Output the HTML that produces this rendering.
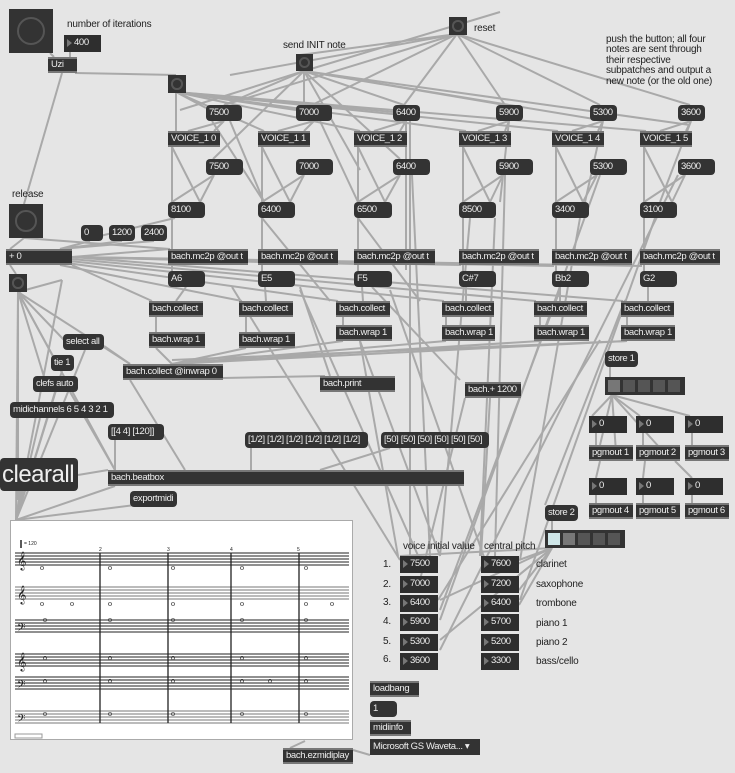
<!DOCTYPE html>
<html><head><meta charset="utf-8"><style>
body{margin:0;width:735px;height:773px;background:#e5e5e5;position:relative;overflow:hidden;font-family:"Liberation Sans",sans-serif;}
.o,.m,.n,.b{position:absolute;box-sizing:border-box;color:#eee;font-size:9.5px;letter-spacing:-0.35px;line-height:16px;padding-left:3px;white-space:nowrap;overflow:hidden;}
.o{background:#333;border-top:2px solid #777;border-bottom:2px solid #777;line-height:12px;}
.m{background:#333;border-radius:4px;}
.n{background:#2e2e2e;padding-left:10px;}
.n:before{content:"";position:absolute;left:3px;top:4px;border-left:5px solid #777;border-top:4px solid transparent;border-bottom:4px solid transparent;}
.b{background:#333;}
.b:after{content:"";position:absolute;left:18%;top:18%;width:64%;height:64%;box-sizing:border-box;border:2px solid #555;border-radius:50%;}
.t{position:absolute;font-size:10px;letter-spacing:-0.2px;color:#222;white-space:nowrap;line-height:11px;}
svg{position:absolute;left:0;top:0;}
</style></head><body>
<svg width="735" height="773" stroke="#a9a9a9" stroke-width="2" fill="none">
<g>
<line x1="50" y1="53" x2="54" y2="57"/><line x1="70" y1="51" x2="70" y2="57"/>
<line x1="75" y1="73" x2="176" y2="75"/><line x1="62" y1="73" x2="24" y2="204"/>
<line x1="176" y1="92" x2="176" y2="131"/>
<line x1="176" y1="92" x2="264" y2="131"/><line x1="176" y1="92" x2="360" y2="131"/><line x1="176" y1="92" x2="466" y2="131"/><line x1="176" y1="92" x2="558" y2="131"/><line x1="176" y1="92" x2="646" y2="131"/>
<line x1="176" y1="92" x2="206" y2="108"/><line x1="176" y1="92" x2="296" y2="110"/><line x1="176" y1="92" x2="393" y2="112"/>
<line x1="304" y1="71" x2="304" y2="105"/><line x1="304" y1="71" x2="213" y2="159"/><line x1="304" y1="71" x2="224" y2="105"/><line x1="304" y1="71" x2="404" y2="105"/><line x1="304" y1="71" x2="505" y2="105"/><line x1="304" y1="71" x2="600" y2="120"/><line x1="304" y1="71" x2="690" y2="125"/><line x1="304" y1="71" x2="400" y2="159"/><line x1="304" y1="71" x2="360" y2="170"/>
<line x1="304" y1="71" x2="500" y2="12"/><line x1="304" y1="71" x2="180" y2="110"/>
<line x1="457" y1="34" x2="404" y2="105"/><line x1="457" y1="34" x2="505" y2="105"/><line x1="457" y1="34" x2="600" y2="105"/><line x1="457" y1="34" x2="690" y2="105"/><line x1="457" y1="34" x2="312" y2="105"/><line x1="457" y1="34" x2="224" y2="105"/><line x1="457" y1="34" x2="230" y2="75"/><line x1="457" y1="34" x2="300" y2="55"/>
<line x1="224" y1="121" x2="188" y2="131"/><line x1="224" y1="121" x2="214" y2="131"/><line x1="314" y1="121" x2="278" y2="131"/><line x1="314" y1="121" x2="304" y2="131"/><line x1="406" y1="121" x2="374" y2="131"/><line x1="406" y1="121" x2="400" y2="131"/><line x1="509" y1="121" x2="478" y2="131"/><line x1="509" y1="121" x2="505" y2="131"/><line x1="603" y1="121" x2="572" y2="131"/><line x1="603" y1="121" x2="598" y2="131"/><line x1="691" y1="121" x2="660" y2="131"/><line x1="691" y1="121" x2="686" y2="131"/>
<line x1="212" y1="121" x2="264" y2="202"/><line x1="230" y1="121" x2="264" y2="202"/><line x1="320" y1="121" x2="358" y2="202"/><line x1="406" y1="121" x2="406" y2="270"/><line x1="509" y1="121" x2="500" y2="202"/><line x1="603" y1="121" x2="585" y2="202"/><line x1="691" y1="121" x2="660" y2="202"/>
<line x1="172" y1="147" x2="172" y2="202"/><line x1="262" y1="147" x2="262" y2="202"/><line x1="358" y1="147" x2="358" y2="202"/><line x1="463" y1="147" x2="463" y2="202"/><line x1="556" y1="147" x2="556" y2="202"/><line x1="644" y1="147" x2="644" y2="202"/>
<line x1="172" y1="147" x2="200" y2="202"/><line x1="262" y1="147" x2="290" y2="202"/><line x1="358" y1="147" x2="385" y2="202"/><line x1="463" y1="147" x2="490" y2="202"/><line x1="556" y1="147" x2="583" y2="202"/><line x1="644" y1="147" x2="672" y2="202"/>
<line x1="214" y1="175" x2="172" y2="202"/><line x1="214" y1="175" x2="200" y2="202"/><line x1="304" y1="175" x2="262" y2="202"/><line x1="304" y1="175" x2="290" y2="202"/><line x1="400" y1="175" x2="358" y2="202"/><line x1="400" y1="175" x2="385" y2="202"/><line x1="503" y1="175" x2="463" y2="202"/><line x1="503" y1="175" x2="490" y2="202"/><line x1="597" y1="175" x2="556" y2="202"/><line x1="597" y1="175" x2="583" y2="202"/><line x1="685" y1="175" x2="644" y2="202"/><line x1="685" y1="175" x2="672" y2="202"/>
<line x1="175" y1="218" x2="100" y2="236"/>
<line x1="172" y1="218" x2="172" y2="249"/><line x1="262" y1="218" x2="262" y2="249"/><line x1="358" y1="218" x2="358" y2="249"/><line x1="463" y1="218" x2="463" y2="249"/><line x1="556" y1="218" x2="556" y2="249"/><line x1="644" y1="218" x2="644" y2="249"/>
<line x1="262" y1="218" x2="330" y2="301"/><line x1="358" y1="218" x2="420" y2="301"/>
<line x1="172" y1="265" x2="172" y2="271"/><line x1="262" y1="265" x2="262" y2="271"/><line x1="358" y1="265" x2="358" y2="271"/><line x1="463" y1="265" x2="463" y2="271"/><line x1="556" y1="265" x2="556" y2="271"/><line x1="644" y1="265" x2="644" y2="271"/>
<line x1="24" y1="238" x2="10" y2="249"/><line x1="24" y1="238" x2="170" y2="249"/><line x1="90" y1="241" x2="60" y2="249"/><line x1="122" y1="241" x2="60" y2="249"/><line x1="154" y1="241" x2="60" y2="249"/>
<line x1="72" y1="257" x2="170" y2="249"/><line x1="72" y1="257" x2="260" y2="262"/><line x1="72" y1="257" x2="356" y2="264"/><line x1="72" y1="257" x2="461" y2="265"/><line x1="72" y1="257" x2="554" y2="266"/><line x1="72" y1="257" x2="642" y2="266"/>
<line x1="72" y1="265" x2="152" y2="301"/><line x1="60" y1="265" x2="242" y2="301"/><line x1="60" y1="262" x2="338" y2="301"/><line x1="60" y1="260" x2="444" y2="301"/><line x1="60" y1="258" x2="536" y2="301"/><line x1="60" y1="256" x2="623" y2="301"/>
<line x1="10" y1="265" x2="16" y2="274"/>
<line x1="186" y1="287" x2="176" y2="301"/><line x1="265" y1="287" x2="266" y2="301"/><line x1="362" y1="287" x2="363" y2="301"/><line x1="466" y1="287" x2="466" y2="301"/><line x1="560" y1="287" x2="560" y2="301"/><line x1="648" y1="287" x2="648" y2="301"/>
<line x1="372" y1="287" x2="460" y2="380"/><line x1="300" y1="287" x2="330" y2="376"/>
<line x1="156" y1="317" x2="156" y2="332"/><line x1="246" y1="317" x2="246" y2="332"/><line x1="343" y1="317" x2="343" y2="325"/><line x1="446" y1="317" x2="446" y2="325"/><line x1="540" y1="317" x2="540" y2="325"/><line x1="627" y1="317" x2="627" y2="325"/>
<line x1="156" y1="348" x2="172" y2="364"/><line x1="246" y1="348" x2="172" y2="364"/><line x1="343" y1="341" x2="172" y2="364"/><line x1="446" y1="341" x2="172" y2="364"/><line x1="540" y1="341" x2="172" y2="364"/><line x1="627" y1="341" x2="172" y2="364"/><line x1="627" y1="341" x2="172" y2="360"/>
<line x1="130" y1="380" x2="185" y2="470"/><line x1="223" y1="378" x2="325" y2="376"/>
<line x1="18" y1="292" x2="18" y2="500"/><line x1="18" y1="292" x2="64" y2="340"/><line x1="18" y1="292" x2="55" y2="360"/><line x1="18" y1="292" x2="45" y2="380"/><line x1="18" y1="292" x2="130" y2="364"/><line x1="18" y1="292" x2="115" y2="470"/><line x1="18" y1="292" x2="62" y2="280"/><line x1="62" y1="280" x2="16" y2="520"/><line x1="18" y1="292" x2="16" y2="520"/>
<line x1="104" y1="346" x2="130" y2="364"/><line x1="85" y1="350" x2="16" y2="520"/><line x1="62" y1="371" x2="16" y2="520"/><line x1="55" y1="392" x2="16" y2="520"/><line x1="70" y1="392" x2="115" y2="470"/><line x1="40" y1="418" x2="16" y2="520"/>
<line x1="115" y1="440" x2="115" y2="470"/><line x1="78" y1="475" x2="108" y2="470"/><line x1="20" y1="491" x2="16" y2="520"/>
<line x1="251" y1="448" x2="251" y2="470"/><line x1="390" y1="448" x2="320" y2="470"/>
<line x1="115" y1="486" x2="16" y2="520"/><line x1="135" y1="505" x2="16" y2="520"/>
<line x1="305" y1="741" x2="290" y2="748"/><line x1="353" y1="750" x2="370" y2="755"/>
<line x1="232" y1="287" x2="400" y2="560"/><line x1="300" y1="290" x2="420" y2="560"/><line x1="410" y1="121" x2="410" y2="556"/><line x1="412" y1="175" x2="430" y2="556"/><line x1="505" y1="175" x2="495" y2="556"/><line x1="495" y1="218" x2="480" y2="556"/><line x1="390" y1="290" x2="485" y2="560"/><line x1="470" y1="218" x2="440" y2="556"/><line x1="560" y1="290" x2="440" y2="610"/><line x1="600" y1="175" x2="440" y2="620"/><line x1="580" y1="218" x2="520" y2="560"/><line x1="678" y1="175" x2="440" y2="650"/><line x1="655" y1="218" x2="520" y2="600"/><line x1="360" y1="341" x2="440" y2="556"/><line x1="360" y1="341" x2="398" y2="556"/>
<line x1="465" y1="398" x2="420" y2="580"/><line x1="490" y1="398" x2="481" y2="556"/>
<line x1="610" y1="367" x2="610" y2="377"/><line x1="612" y1="395" x2="592" y2="416"/><line x1="612" y1="395" x2="640" y2="416"/><line x1="612" y1="395" x2="690" y2="416"/><line x1="612" y1="395" x2="660" y2="448"/><line x1="612" y1="395" x2="600" y2="445"/><line x1="612" y1="395" x2="616" y2="452"/>
<line x1="596" y1="432" x2="596" y2="445"/><line x1="643" y1="432" x2="643" y2="445"/><line x1="692" y1="432" x2="692" y2="445"/><line x1="596" y1="491" x2="596" y2="503"/><line x1="643" y1="491" x2="643" y2="503"/><line x1="692" y1="491" x2="692" y2="503"/>
<line x1="600" y1="461" x2="596" y2="478"/><line x1="645" y1="461" x2="643" y2="478"/><line x1="675" y1="461" x2="692" y2="478"/>
<line x1="552" y1="521" x2="552" y2="530"/><line x1="552" y1="548" x2="440" y2="640"/><line x1="552" y1="548" x2="440" y2="600"/><line x1="552" y1="548" x2="519" y2="560"/><line x1="552" y1="548" x2="519" y2="575"/><line x1="552" y1="548" x2="519" y2="590"/><line x1="552" y1="548" x2="519" y2="605"/><line x1="552" y1="548" x2="400" y2="556"/>
<line x1="625" y1="300" x2="545" y2="505"/><line x1="600" y1="340" x2="438" y2="600"/>
</g></svg>

<div class="b" style="left:9px;top:9px;width:44px;height:44px"></div>
<div class="t" style="left:67px;top:19px">number of iterations</div>
<div class="n" style="left:64px;top:35px;width:37px;height:17px">400</div>
<div class="o" style="left:48px;top:57px;width:29px;height:16px">Uzi</div>
<div class="b" style="left:168px;top:75px;width:18px;height:18px"></div>
<div class="t" style="left:283px;top:40px">send INIT note</div>
<div class="b" style="left:296px;top:54px;width:17px;height:17px"></div>
<div class="b" style="left:449px;top:17px;width:18px;height:18px"></div>
<div class="t" style="left:474px;top:23px">reset</div>
<div class="t" style="left:606px;top:35px;line-height:10.4px">push the button; all four<br>notes are sent through<br>their respective<br>subpatches and output a<br>new note (or the old one)</div>

<div class="m" style="left:206px;top:105px;width:36px;height:16px">7500</div>
<div class="m" style="left:296px;top:105px;width:36px;height:16px">7000</div>
<div class="m" style="left:393px;top:105px;width:27px;height:16px">6400</div>
<div class="m" style="left:496px;top:105px;width:27px;height:16px">5900</div>
<div class="m" style="left:590px;top:105px;width:27px;height:16px">5300</div>
<div class="m" style="left:678px;top:105px;width:27px;height:16px">3600</div>

<div class="o" style="left:168px;top:131px;width:52px;height:16px">VOICE_1 0</div>
<div class="o" style="left:258px;top:131px;width:52px;height:16px">VOICE_1 1</div>
<div class="o" style="left:354px;top:131px;width:53px;height:16px">VOICE_1 2</div>
<div class="o" style="left:459px;top:131px;width:52px;height:16px">VOICE_1 3</div>
<div class="o" style="left:552px;top:131px;width:52px;height:16px">VOICE_1 4</div>
<div class="o" style="left:640px;top:131px;width:52px;height:16px">VOICE_1 5</div>

<div class="m" style="left:206px;top:159px;width:37px;height:16px">7500</div>
<div class="m" style="left:296px;top:159px;width:37px;height:16px">7000</div>
<div class="m" style="left:393px;top:159px;width:37px;height:16px">6400</div>
<div class="m" style="left:496px;top:159px;width:37px;height:16px">5900</div>
<div class="m" style="left:590px;top:159px;width:37px;height:16px">5300</div>
<div class="m" style="left:678px;top:159px;width:37px;height:16px">3600</div>

<div class="m" style="left:168px;top:202px;width:37px;height:16px">8100</div>
<div class="m" style="left:258px;top:202px;width:37px;height:16px">6400</div>
<div class="m" style="left:354px;top:202px;width:38px;height:16px">6500</div>
<div class="m" style="left:459px;top:202px;width:37px;height:16px">8500</div>
<div class="m" style="left:552px;top:202px;width:37px;height:16px">3400</div>
<div class="m" style="left:640px;top:202px;width:37px;height:16px">3100</div>

<div class="t" style="left:12px;top:189px">release</div>
<div class="b" style="left:9px;top:204px;width:34px;height:34px"></div>
<div class="m" style="left:81px;top:225px;width:22px;height:16px">0</div>
<div class="m" style="left:109px;top:225px;width:26px;height:16px">1200</div>
<div class="m" style="left:141px;top:225px;width:26px;height:16px">2400</div>
<div class="o" style="left:6px;top:249px;width:66px;height:16px">+ 0</div>

<div class="o" style="left:168px;top:249px;width:80px;height:16px">bach.mc2p @out t</div>
<div class="o" style="left:258px;top:249px;width:80px;height:16px">bach.mc2p @out t</div>
<div class="o" style="left:354px;top:249px;width:81px;height:16px">bach.mc2p @out t</div>
<div class="o" style="left:459px;top:249px;width:80px;height:16px">bach.mc2p @out t</div>
<div class="o" style="left:552px;top:249px;width:80px;height:16px">bach.mc2p @out t</div>
<div class="o" style="left:640px;top:249px;width:80px;height:16px">bach.mc2p @out t</div>

<div class="m" style="left:168px;top:271px;width:37px;height:16px">A6</div>
<div class="m" style="left:258px;top:271px;width:37px;height:16px">E5</div>
<div class="m" style="left:354px;top:271px;width:38px;height:16px">F5</div>
<div class="m" style="left:459px;top:271px;width:37px;height:16px">C#7</div>
<div class="m" style="left:552px;top:271px;width:37px;height:16px">Bb2</div>
<div class="m" style="left:640px;top:271px;width:37px;height:16px">G2</div>
<div class="b" style="left:9px;top:274px;width:18px;height:18px"></div>

<div class="o" style="left:149px;top:301px;width:54px;height:16px">bach.collect</div>
<div class="o" style="left:239px;top:301px;width:54px;height:16px">bach.collect</div>
<div class="o" style="left:336px;top:301px;width:54px;height:16px">bach.collect</div>
<div class="o" style="left:442px;top:301px;width:52px;height:16px">bach.collect</div>
<div class="o" style="left:534px;top:301px;width:53px;height:16px">bach.collect</div>
<div class="o" style="left:621px;top:301px;width:53px;height:16px">bach.collect</div>
<div class="o" style="left:149px;top:332px;width:56px;height:16px">bach.wrap 1</div>
<div class="o" style="left:239px;top:332px;width:56px;height:16px">bach.wrap 1</div>
<div class="o" style="left:336px;top:325px;width:56px;height:16px">bach.wrap 1</div>
<div class="o" style="left:442px;top:325px;width:53px;height:16px">bach.wrap 1</div>
<div class="o" style="left:534px;top:325px;width:55px;height:16px">bach.wrap 1</div>
<div class="o" style="left:621px;top:325px;width:54px;height:16px">bach.wrap 1</div>

<div class="m" style="left:63px;top:334px;width:41px;height:16px">select all</div>
<div class="m" style="left:51px;top:355px;width:23px;height:16px">tie 1</div>
<div class="m" style="left:33px;top:376px;width:45px;height:16px">clefs auto</div>
<div class="m" style="left:10px;top:402px;width:104px;height:16px">midichannels 6 5 4 3 2 1</div>
<div class="o" style="left:123px;top:364px;width:100px;height:16px">bach.collect @inwrap 0</div>
<div class="o" style="left:320px;top:376px;width:75px;height:16px">bach.print</div>
<div class="o" style="left:465px;top:382px;width:56px;height:16px">bach.+ 1200</div>
<div class="m" style="left:108px;top:424px;width:56px;height:16px">[[4 4] [120]]</div>
<div class="m" style="left:245px;top:432px;width:123px;height:16px">[1/2] [1/2] [1/2] [1/2] [1/2] [1/2]</div>
<div class="m" style="left:381px;top:432px;width:108px;height:16px">[50] [50] [50] [50] [50] [50]</div>
<div class="m" style="left:0px;top:458px;width:78px;height:33px;font-size:24px;letter-spacing:-0.5px;line-height:33px;padding-left:2px">clearall</div>
<div class="o" style="left:108px;top:470px;width:356px;height:16px">bach.beatbox</div>
<div class="m" style="left:130px;top:491px;width:47px;height:16px">exportmidi</div>

<div class="m" style="left:605px;top:351px;width:33px;height:16px">store 1</div>
<div style="position:absolute;left:605px;top:377px;width:80px;height:18px;background:#333"></div>
<div style="position:absolute;left:608px;top:380px;width:12px;height:12px;background:#777"></div>
<div style="position:absolute;left:623px;top:380px;width:12px;height:12px;background:#555"></div>
<div style="position:absolute;left:638px;top:380px;width:12px;height:12px;background:#555"></div>
<div style="position:absolute;left:653px;top:380px;width:12px;height:12px;background:#555"></div>
<div style="position:absolute;left:668px;top:380px;width:12px;height:12px;background:#555"></div>

<div class="n" style="left:589px;top:416px;width:38px;height:17px">0</div>
<div class="n" style="left:636px;top:416px;width:38px;height:17px">0</div>
<div class="n" style="left:685px;top:416px;width:38px;height:17px">0</div>
<div class="o" style="left:589px;top:445px;width:44px;height:16px">pgmout 1</div>
<div class="o" style="left:636px;top:445px;width:44px;height:16px">pgmout 2</div>
<div class="o" style="left:685px;top:445px;width:44px;height:16px">pgmout 3</div>
<div class="n" style="left:589px;top:478px;width:38px;height:17px">0</div>
<div class="n" style="left:636px;top:478px;width:38px;height:17px">0</div>
<div class="n" style="left:685px;top:478px;width:38px;height:17px">0</div>
<div class="o" style="left:589px;top:503px;width:44px;height:16px">pgmout 4</div>
<div class="o" style="left:636px;top:503px;width:44px;height:16px">pgmout 5</div>
<div class="o" style="left:685px;top:503px;width:44px;height:16px">pgmout 6</div>

<div class="m" style="left:545px;top:505px;width:33px;height:16px">store 2</div>
<div style="position:absolute;left:545px;top:530px;width:80px;height:18px;background:#333"></div>
<div style="position:absolute;left:548px;top:533px;width:12px;height:12px;background:#cfe6e8"></div>
<div style="position:absolute;left:563px;top:533px;width:12px;height:12px;background:#777"></div>
<div style="position:absolute;left:578px;top:533px;width:12px;height:12px;background:#555"></div>
<div style="position:absolute;left:593px;top:533px;width:12px;height:12px;background:#555"></div>
<div style="position:absolute;left:608px;top:533px;width:12px;height:12px;background:#555"></div>

<div class="t" style="left:403px;top:541px">voice initial value</div>
<div class="t" style="left:484px;top:541px">central pitch</div>
<div class="t" style="left:383px;top:559px">1.</div><div class="t" style="left:383px;top:579px">2.</div><div class="t" style="left:383px;top:597px">3.</div><div class="t" style="left:383px;top:616px">4.</div><div class="t" style="left:383px;top:636px">5.</div><div class="t" style="left:383px;top:654px">6.</div>
<div class="n" style="left:400px;top:556px;width:38px;height:17px">7500</div>
<div class="n" style="left:400px;top:576px;width:38px;height:17px">7000</div>
<div class="n" style="left:400px;top:595px;width:38px;height:17px">6400</div>
<div class="n" style="left:400px;top:614px;width:38px;height:17px">5900</div>
<div class="n" style="left:400px;top:634px;width:38px;height:17px">5300</div>
<div class="n" style="left:400px;top:653px;width:38px;height:17px">3600</div>
<div class="n" style="left:481px;top:556px;width:38px;height:17px">7600</div>
<div class="n" style="left:481px;top:576px;width:38px;height:17px">7200</div>
<div class="n" style="left:481px;top:595px;width:38px;height:17px">6400</div>
<div class="n" style="left:481px;top:614px;width:38px;height:17px">5700</div>
<div class="n" style="left:481px;top:634px;width:38px;height:17px">5200</div>
<div class="n" style="left:481px;top:653px;width:38px;height:17px">3300</div>
<div class="t" style="left:536px;top:559px">clarinet</div>
<div class="t" style="left:536px;top:579px">saxophone</div>
<div class="t" style="left:536px;top:598px">trombone</div>
<div class="t" style="left:536px;top:618px">piano 1</div>
<div class="t" style="left:536px;top:637px">piano 2</div>
<div class="t" style="left:536px;top:656px">bass/cello</div>

<div class="o" style="left:370px;top:681px;width:49px;height:16px">loadbang</div>
<div class="m" style="left:370px;top:701px;width:27px;height:16px">1</div>
<div class="o" style="left:370px;top:720px;width:41px;height:16px">midiinfo</div>
<div class="m" style="left:370px;top:739px;width:110px;height:16px;border-radius:0">Microsoft GS Waveta... ▾</div>
<div class="o" style="left:283px;top:748px;width:70px;height:16px">bach.ezmidiplay</div>

<div style="position:absolute;left:10px;top:520px;width:343px;height:220px;background:#fff;border:1px solid #aaa;box-sizing:border-box"></div>
<svg width="735" height="773" stroke="#222" stroke-width="1" fill="none">
<g>
<path d="M15 553h334M15 556h334M15 559h334M15 562h334M15 565h334"/>
<path d="M15 587h334M15 590h334M15 593h334M15 596h334M15 599h334" stroke="#777"/>
<path d="M15 620h334M15 623h334M15 626h334M15 629h334M15 632h334"/>
<path d="M15 654h334M15 657h334M15 660h334M15 663h334M15 666h334"/>
<path d="M15 677h334M15 680h334M15 683h334M15 686h334M15 689h334"/>
<path d="M15 711h334M15 714h334M15 717h334M15 720h334M15 723h334" stroke="#777"/>
<path d="M100 553v170M168 553v170M231 553v170M299 553v170" stroke-width="1.3"/>
<path d="M21 540v8" stroke-width="1.5"/>
<rect x="15" y="734" width="27" height="4" stroke="#999"/>
</g>
<g fill="#222" stroke="none" font-family="Liberation Serif,serif">
<text x="17" y="566" font-size="16">𝄞</text><text x="17" y="600" font-size="16">𝄞</text><text x="17" y="667" font-size="16">𝄞</text>
<text x="17" y="633" font-size="13">𝄢</text><text x="17" y="690" font-size="13">𝄢</text><text x="17" y="724" font-size="13">𝄢</text>
<g font-size="5" font-family="Liberation Sans"><text x="24" y="545">= 120</text><text x="99" y="551">2</text><text x="167" y="551">3</text><text x="230" y="551">4</text><text x="297" y="551">5</text></g>
<g font-size="8"><text x="40" y="570">o</text><text x="108" y="570">o</text><text x="171" y="570">o</text><text x="240" y="570">o</text><text x="304" y="570">o</text>
<text x="40" y="606">o</text><text x="70" y="606">o</text><text x="108" y="606">o</text><text x="171" y="606">o</text><text x="240" y="606">o</text><text x="304" y="606">o</text><text x="330" y="606">o</text>
<text x="43" y="622">o</text><text x="108" y="622">o</text><text x="171" y="622">o</text><text x="240" y="622">o</text><text x="304" y="622">o</text>
<text x="43" y="660">o</text><text x="108" y="660">o</text><text x="171" y="660">o</text><text x="240" y="660">o</text><text x="304" y="660">o</text>
<text x="43" y="683">o</text><text x="108" y="683">o</text><text x="171" y="683">o</text><text x="240" y="683">o</text><text x="268" y="683">o</text><text x="304" y="683">o</text>
<text x="43" y="716">o</text><text x="108" y="716">o</text><text x="171" y="716">o</text><text x="240" y="716">o</text><text x="304" y="716">o</text></g>
</g></svg>
</body></html>
